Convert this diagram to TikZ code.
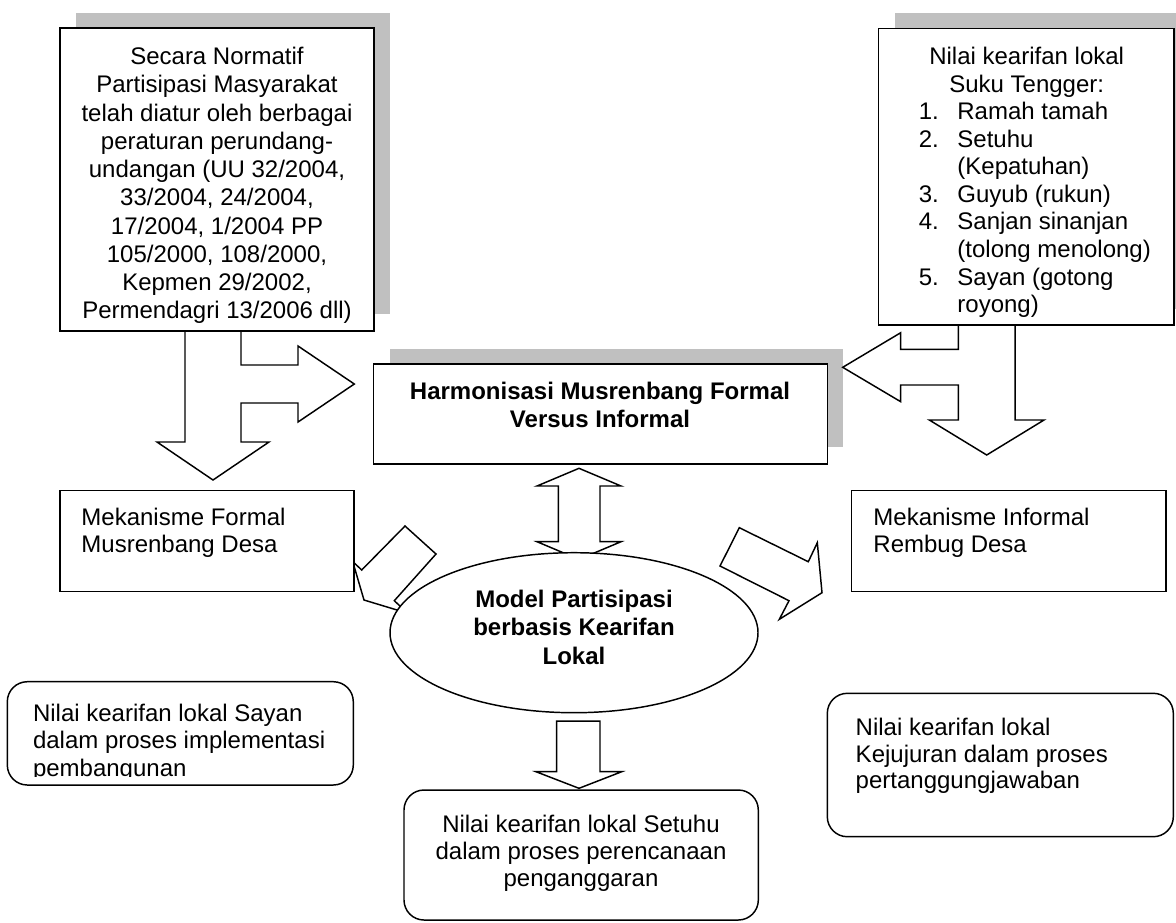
\documentclass[tikz,border=0pt]{standalone}
\usepackage{fontspec}
\setmainfont{Liberation Sans}
\usetikzlibrary{fit,shapes.geometric}
\definecolor{shadowgray}{RGB}{192,192,192}
\begin{document}
\begin{tikzpicture}[x=0.75pt,y=-0.75pt,line width=1.1pt,line join=miter,
  box/.style={draw=black,fill=white,inner sep=0pt},
  rbox/.style={box,rounded corners=15pt},
  shadowbox/.style={fill=shadowgray,draw=none,inner sep=0pt},
  blockarrow/.style={draw=black,fill=white,line join=miter},
  txt/.style={inner sep=0pt,font=\fontsize{18}{20.7}\selectfont},
  txtwide/.style={inner sep=0pt,font=\fontsize{18}{21.2}\selectfont},
  txtb/.style={inner sep=0pt,font=\fontsize{18}{21.2}\selectfont\bfseries}]
\useasboundingbox (0,0) rectangle (1176,922);

% shadows
\node[shadowbox,fit={(76,13) (390,314)}] (tlshadow) {};
\node[shadowbox,fit={(895,12.7) (1190,309)}] (trshadow) {};
\node[shadowbox,fit={(390,349) (842.7,447)}] (hshadow) {};

% composite block arrows from the top boxes
\draw[blockarrow] (185,331) -- (185,442) -- (157,442) -- (213,480) -- (269,442) -- (241,442)
  -- (241,403) -- (298,403) -- (298,422) -- (354.3,384) -- (298,346) -- (298,365) -- (241,365) -- (241,331);
\draw[blockarrow] (1015,325) -- (1015,420) -- (1044,420) -- (986.7,455) -- (929.3,420) -- (958.3,420)
  -- (958.3,385) -- (900.7,385) -- (900.7,401.7) -- (842.7,367.3) -- (900.7,332.7) -- (900.7,349.3) -- (958.3,349.3) -- (958.3,325);

% top boxes
\node[box,fit={(60,28) (374,331)}] (tlbox) {};
\node[txtwide,align=center,anchor=north] (tltext) at (217,46.4)
  {Secara Normatif\\Partisipasi Masyarakat\\telah diatur oleh berbagai\\peraturan perundang-\\undangan (UU 32/2004,\\33/2004, 24/2004,\\17/2004, 1/2004 PP\\105/2000, 108/2000,\\Kepmen 29/2002,\\Permendagri 13/2006 dll)};

\node[box,fit={(878.7,28.7) (1174,325)}] (trbox) {};
\node[txt,align=center,anchor=north] (trhead) at (1026.7,46.4) {Nilai kearifan lokal\\Suku Tengger:};
\node[txt,align=left,anchor=north west] (trlist) at (918,101.4)
  {\makebox[29pt][l]{1.}Ramah tamah\\
   \makebox[29pt][l]{2.}Setuhu\\
   \hspace*{29pt}(Kepatuhan)\\
   \makebox[29pt][l]{3.}Guyub (rukun)\\
   \makebox[29pt][l]{4.}Sanjan sinanjan\\
   \hspace*{29pt}(tolong menolong)\\
   \makebox[29pt][l]{5.}Sayan (gotong\\
   \hspace*{29pt}royong)};

\node[box,fit={(373.3,364) (827.3,464)}] (hbox) {};
\node[txtb,align=center,anchor=north] (htext) at (600,381.4) {Harmonisasi Musrenbang Formal\\Versus Informal};

% double arrow
\draw[blockarrow] (579,468.3) -- (621,486) -- (600,486) -- (600,541.7) -- (621,541.7) -- (579,559.4)
  -- (537,541.7) -- (558.3,541.7) -- (558.3,486) -- (537,486) -- cycle;

% diagonal arrows
\draw[blockarrow] (405,526) -- (436,554) -- (394.3,600.7) -- (407.6,613.2) -- (364,600) -- (352.7,561.5) -- (361.7,570) -- cycle;
\draw[blockarrow] (739.3,527.7) -- (808.3,561.7) -- (817.3,542.7) -- (822,592.7) -- (779.3,619.3) -- (789,600.7) -- (720,566) -- cycle;

% middle boxes
\node[box,fit={(60,490.7) (354,591.7)}] (mfbox) {};
\node[txt,align=left,anchor=north west,font=\fontsize{18}{20}\selectfont] (mftext) at (80.7,507.4) {Mekanisme Formal\\Musrenbang Desa};
\node[box,fit={(851.7,490.7) (1166,591.7)}] (mibox) {};
\node[txt,align=left,anchor=north west,font=\fontsize{18}{20}\selectfont] (mitext) at (872.7,507.4) {Mekanisme Informal\\Rembug Desa};

% ellipse
\node[draw=black,fill=white,ellipse,inner sep=0pt,minimum width=276pt,minimum height=120pt] (model) at (574,632.7) {};
\node[txtb,align=center,anchor=north] (modeltext) at (574,589.4) {Model Partisipasi\\berbasis Kearifan\\Lokal};

% down arrow
\draw[blockarrow] (556.7,721) -- (600,721) -- (600,771.7) -- (621.7,771.7) -- (579,788.3) -- (536,771.7) -- (556.7,771.7) -- cycle;

% bottom boxes
\node[rbox,fit={(7.3,681.7) (353.3,785)}] (blbox) {};
\begin{scope}
\clip (7,682) rectangle (353,776);
\node[txt,align=left,anchor=north west] (bltext) at (32.3,703) {Nilai kearifan lokal Sayan\\dalam proses implementasi\\pembangunan};
\end{scope}

\node[rbox,fit={(404,790) (758.3,920)}] (bcbox) {};
\node[txt,align=center,anchor=north,font=\fontsize{18}{20}\selectfont] (bctext) at (581,814.7) {Nilai kearifan lokal Setuhu\\dalam proses perencanaan\\penganggaran};

\node[rbox,fit={(827.3,693.3) (1173.3,836.7)}] (brbox) {};
\node[txt,align=left,anchor=north west,font=\fontsize{18}{20}\selectfont] (brtext) at (855,717.4) {Nilai kearifan lokal\\Kejujuran dalam proses\\pertanggungjawaban};
\end{tikzpicture}
\end{document}
